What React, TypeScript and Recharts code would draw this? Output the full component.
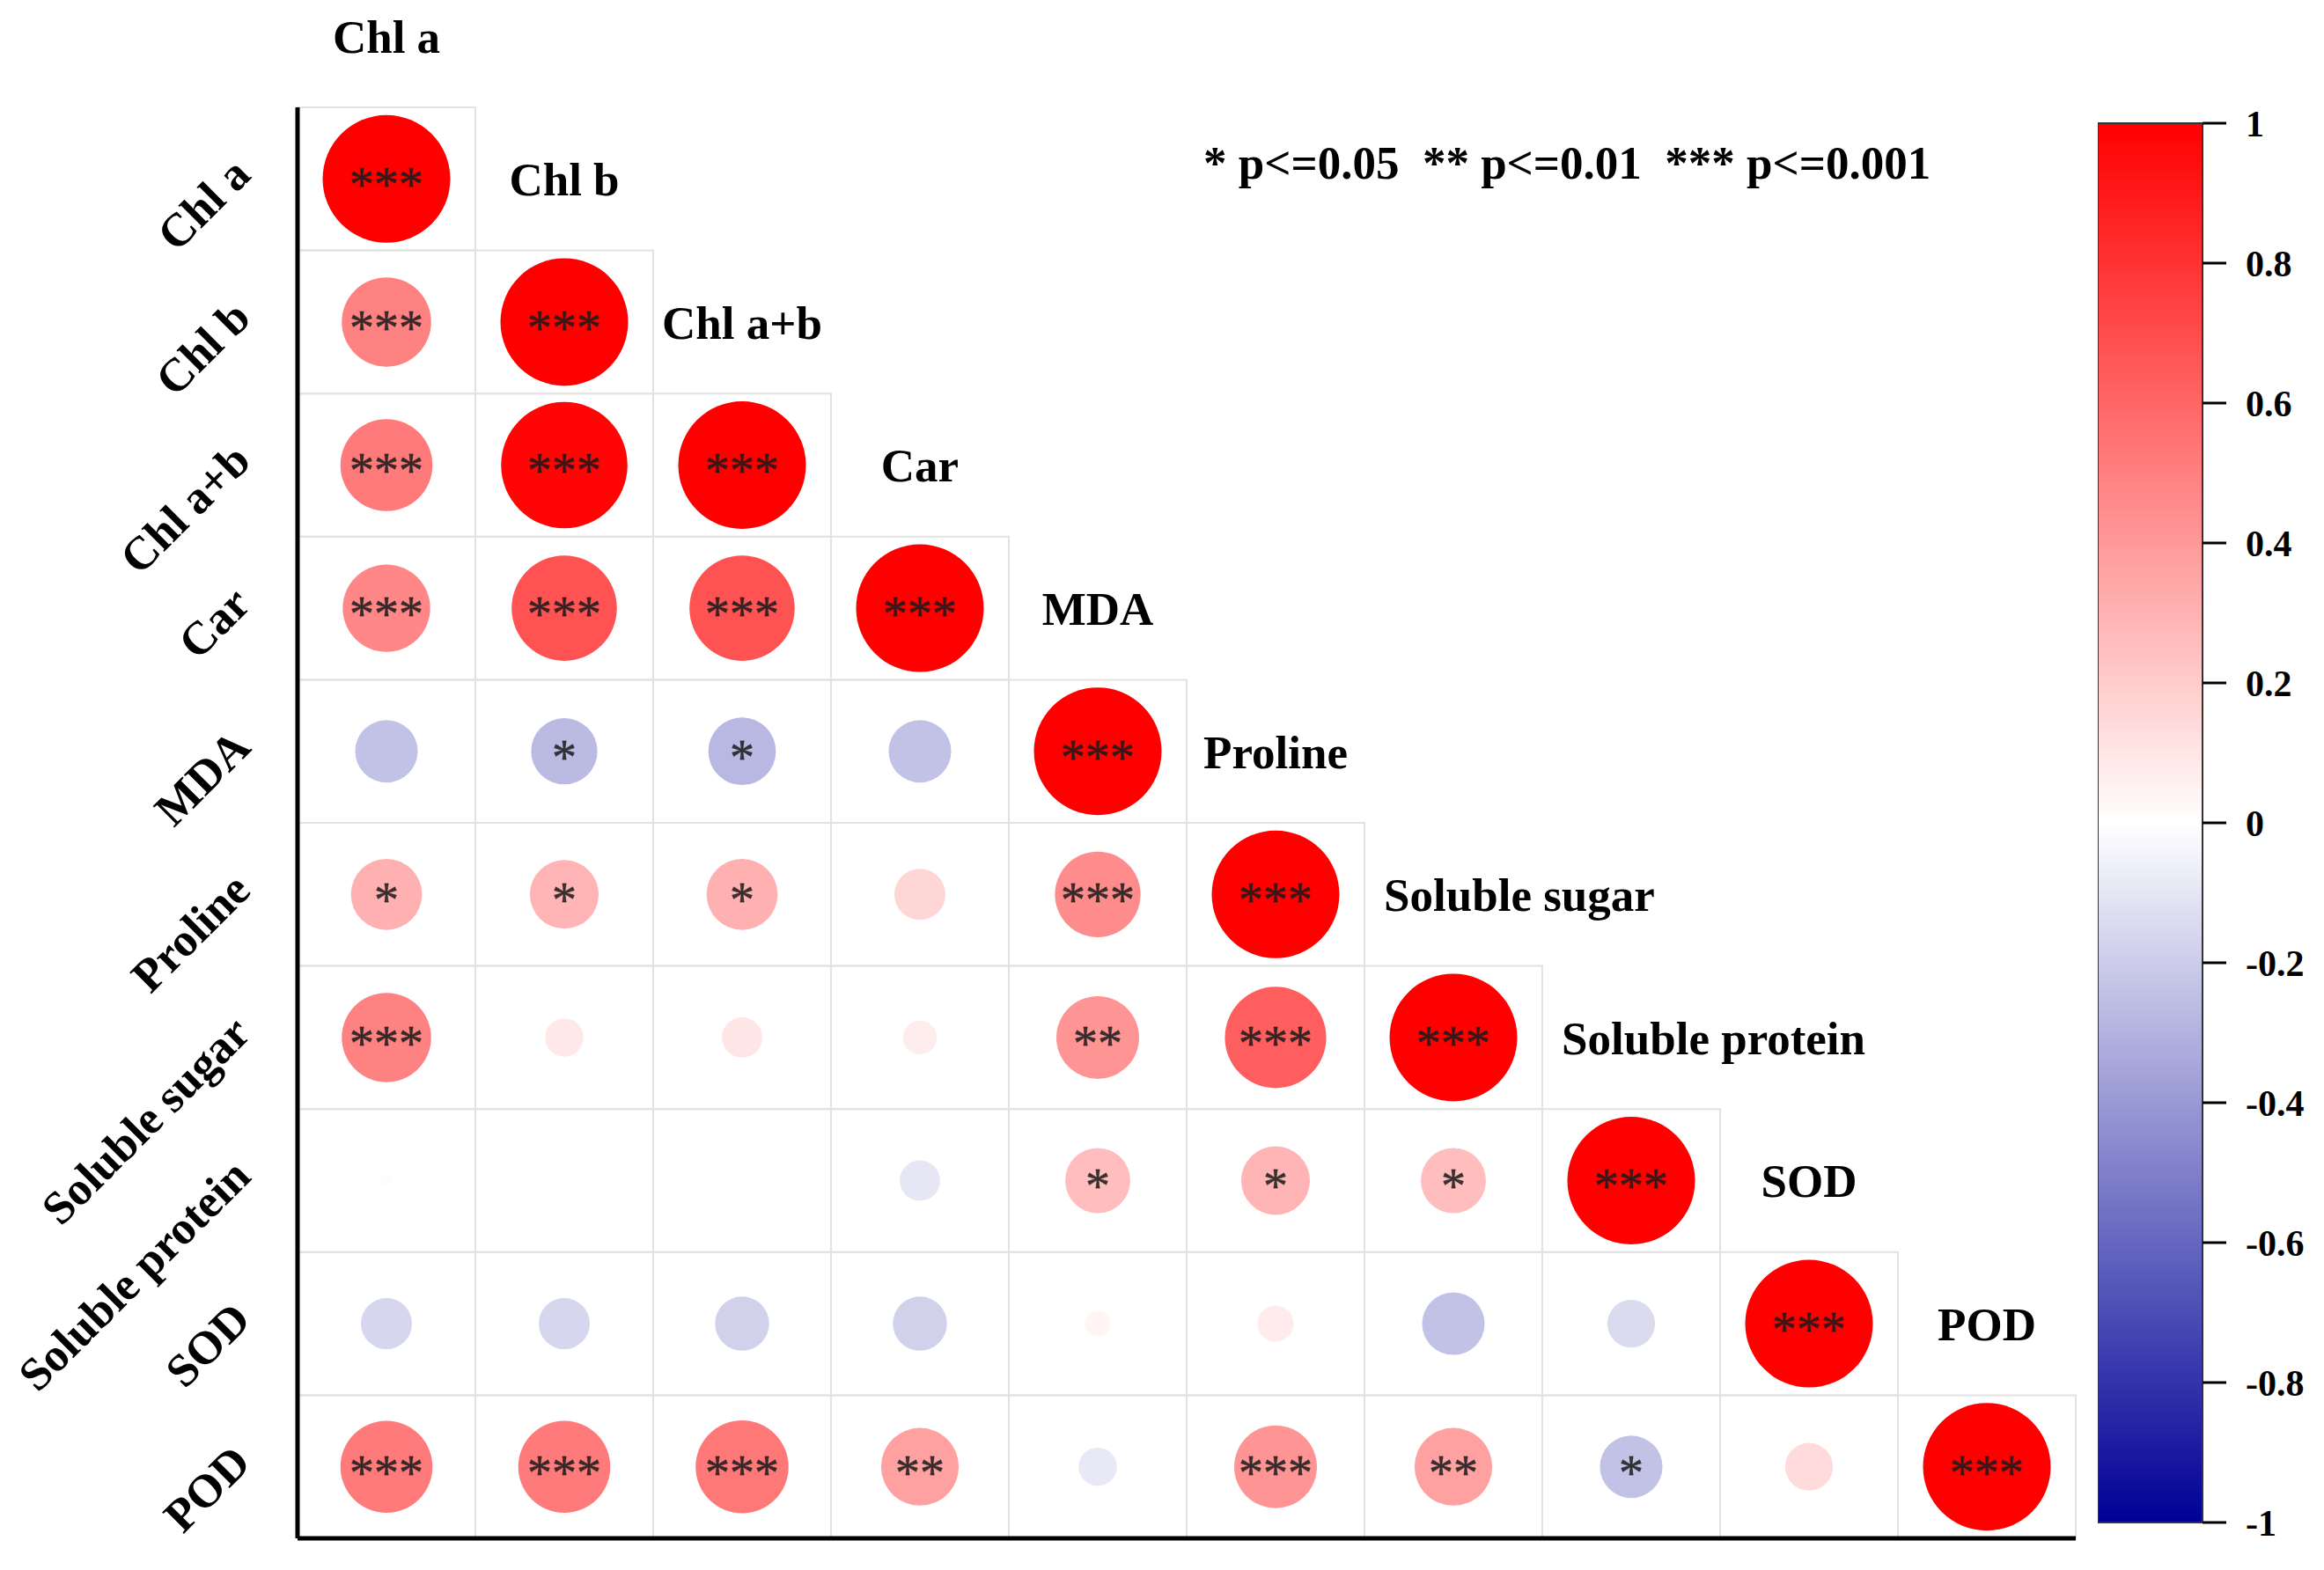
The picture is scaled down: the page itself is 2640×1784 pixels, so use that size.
import {
  ScatterChart,
  Scatter,
  XAxis,
  YAxis,
  ZAxis,
  ReferenceArea,
  ReferenceLine,
  BarChart,
  Bar,
} from 'recharts';

const variables = [
  'Chl a',
  'Chl b',
  'Chl a+b',
  'Car',
  'MDA',
  'Proline',
  'Soluble sugar',
  'Soluble protein',
  'SOD',
  'POD',
];

// lower triangle, row i holds r(i, 0..i)
const corrRows = [
  [1],
  [0.49, 1],
  [0.52, 0.98, 1],
  [0.47, 0.68, 0.68, 1],
  [-0.24, -0.27, -0.28, -0.24, 1],
  [0.31, 0.29, 0.31, 0.16, 0.45, 1],
  [0.49, 0.09, 0.1, 0.07, 0.42, 0.63, 1],
  [0.01, 0.0, 0.005, -0.1, 0.26, 0.29, 0.26, 1],
  [-0.16, -0.16, -0.18, -0.18, 0.04, 0.08, -0.24, -0.14, 1],
  [0.52, 0.52, 0.53, 0.37, -0.09, 0.42, 0.37, -0.24, 0.14, 1],
];

const sigRows = [
  ['***'],
  ['***', '***'],
  ['***', '***', '***'],
  ['***', '***', '***', '***'],
  ['', '*', '*', '', '***'],
  ['*', '*', '*', '', '***', '***'],
  ['***', '', '', '', '**', '***', '***'],
  ['', '', '', '', '*', '*', '*', '***'],
  ['', '', '', '', '', '', '', '', '***'],
  ['***', '***', '***', '**', '', '***', '**', '*', '', '***'],
];

const colorbarTicks = [-1, -0.8, -0.6, -0.4, -0.2, 0, 0.2, 0.4, 0.6, 0.8, 1];

const FONT = '"Liberation Serif", "Times New Roman", serif';
const MAX_R = 72.5;
const COL_W = 202;

function corrColor(r: number) {
  if (r >= 0) {
    const v = Math.round(255 * (1 - r));
    return `rgb(255,${v},${v})`;
  }
  const a = -r;
  const v = Math.round(255 * (1 - a));
  const b = Math.round(255 - a * (255 - 150));
  return `rgb(${v},${v},${b})`;
}

const cells = corrRows.flatMap((row, i) =>
  row.map((r, j) => ({
    x: j + 0.5,
    y: i + 0.5,
    row: i,
    col: j,
    r,
    abs: Math.abs(r),
    sig: sigRows[i][j],
  }))
);

const labelPoints = variables.map((name, j) => ({ x: j + 0.5, y: j - 0.5, name }));
const rowTicks = variables.map((_, i) => i + 0.5);
const colorbarData = [{ name: 'r', range: [-1, 1] }];

const CircleShape = (props: any) => {
  const { cx, cy, payload } = props;
  const rad = props.size != null ? Math.sqrt(props.size / Math.PI) : (props.width || 0) / 2;
  return (
    <g>
      {rad > 0.5 && <circle cx={cx} cy={cy} r={rad} fill={corrColor(payload.r)} />}
      {payload.sig && (
        <text
          x={cx}
          y={cy + 26}
          textAnchor="middle"
          fontFamily={FONT}
          fontSize={56}
          fill="#1a1a1a"
          fillOpacity={0.85}
          stroke="#1a1a1a"
          strokeOpacity={0.6}
          strokeWidth={0.8}
        >
          {payload.sig}
        </text>
      )}
    </g>
  );
};

const DiagLabel = (props: any) => {
  const { cx, cy, payload } = props;
  const long = payload.name.length > 8;
  return (
    <text
      x={long ? cx - COL_W / 2 + 22 : cx}
      y={cy + 19}
      textAnchor={long ? 'start' : 'middle'}
      fontFamily={FONT}
      fontWeight="bold"
      fontSize={53}
      fill="#000"
    >
      {payload.name}
    </text>
  );
};

const RowTick = (props: any) => {
  const { x, y, payload } = props;
  const name = variables[Math.floor(payload.value)];
  const px = x - 51;
  const py = y - 2;
  return (
    <text
      x={px}
      y={py}
      textAnchor="end"
      fontFamily={FONT}
      fontWeight="bold"
      fontSize={53}
      fill="#000"
      transform={`rotate(-45, ${px}, ${py})`}
    >
      {name}
    </text>
  );
};

export default function App() {
  return (
    <div style={{ position: 'relative', width: 2624, height: 1768, background: '#fff' }}>
      <ScatterChart width={2624} height={1768} margin={{ top: 8.3, right: 274, bottom: 28, left: 0 }}>
        <XAxis type="number" dataKey="x" domain={[0, 10]} hide />
        <YAxis
          type="number"
          dataKey="y"
          domain={[-0.65, 10]}
          reversed
          width={330}
          ticks={rowTicks}
          interval={0}
          axisLine={false}
          tickLine={false}
          tickSize={0}
          tickMargin={0}
          tick={<RowTick />}
        />
        <ZAxis type="number" dataKey="abs" domain={[0, 1]} range={[0, Math.PI * MAX_R * MAX_R]} />
        {cells.map((c) => (
          <ReferenceArea
            key={`cell-${c.row}-${c.col}`}
            x1={c.col}
            x2={c.col + 1}
            y1={c.row}
            y2={c.row + 1}
            fill="#fff"
            fillOpacity={0}
            stroke="#e2e2e2"
            strokeWidth={2}
          />
        ))}
        <Scatter data={cells} shape={CircleShape} isAnimationActive={false} />
        <Scatter data={labelPoints} shape={DiagLabel} isAnimationActive={false} />
        <ReferenceLine segment={[{ x: 0, y: 0 }, { x: 0, y: 10 }]} stroke="#000" strokeWidth={5} />
        <ReferenceLine segment={[{ x: 0, y: 10 }, { x: 10, y: 10 }]} stroke="#000" strokeWidth={5} />
        <text
          x={1359}
          y={195}
          fontFamily={FONT}
          fontWeight="bold"
          fontSize={53}
          fill="#000"
          style={{ whiteSpace: 'pre' }}
        >
          {'* p<=0.05  ** p<=0.01  *** p<=0.001'}
        </text>
      </ScatterChart>

      <div style={{ position: 'absolute', left: 2375, top: 92 }}>
        <BarChart
          width={249}
          height={1670}
          data={colorbarData}
          margin={{ top: 40, right: 0, bottom: 40, left: 0 }}
          barCategoryGap={0}
        >
          <defs>
            <linearGradient id="cbGrad" x1="0" y1="0" x2="0" y2="1">
              <stop offset="0%" stopColor="#ff0000" />
              <stop offset="50%" stopColor="#ffffff" />
              <stop offset="100%" stopColor="rgb(0,0,150)" />
            </linearGradient>
          </defs>
          <XAxis dataKey="name" hide />
          <YAxis
            orientation="right"
            type="number"
            domain={[-1, 1]}
            ticks={colorbarTicks}
            interval={0}
            width={130}
            axisLine={false}
            tickSize={27}
            tickMargin={22}
            tickLine={{ stroke: '#000', strokeWidth: 3 }}
            tick={{ fontFamily: FONT, fontWeight: 'bold', fontSize: 42, fill: '#000' }}
          />
          <Bar dataKey="range" fill="url(#cbGrad)" stroke="#333" strokeWidth={2} isAnimationActive={false} />
        </BarChart>
      </div>
    </div>
  );
}
